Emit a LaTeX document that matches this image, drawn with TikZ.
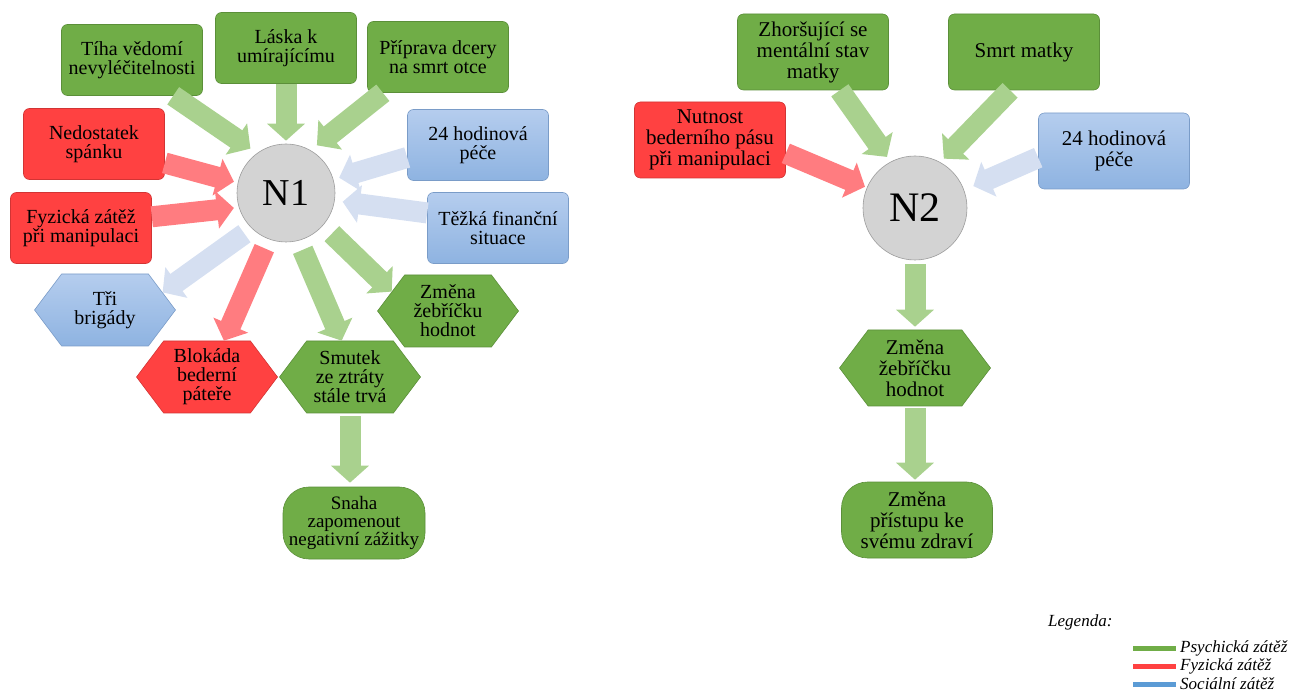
\documentclass[tikz,border=0pt]{standalone}
\usepackage{fontspec}
\setmainfont{Liberation Serif}
\usetikzlibrary{arrows.meta,shapes.symbols}
\definecolor{psyfill}{HTML}{70AD47}
\definecolor{psyline}{HTML}{5B8F39}
\definecolor{psyarrow}{HTML}{A9D18E}
\definecolor{fyzfill}{HTML}{FF4141}
\definecolor{fyzline}{HTML}{D23434}
\definecolor{fyzarrow}{HTML}{FF7C80}
\definecolor{soctop}{HTML}{B5CDEE}
\definecolor{socbot}{HTML}{8EB3E1}
\definecolor{socline}{HTML}{7A9CC8}
\definecolor{socarrow}{HTML}{D5DFF1}
\definecolor{socbar}{HTML}{5B9BD5}
\definecolor{hubfill}{HTML}{D3D3D3}
\definecolor{hubline}{HTML}{9C9C9C}
\newcommand{\cardfont}{\fontsize{20}{19}\selectfont}
\newcommand{\widefont}{\fontsize{21}{21}\selectfont}
\newcommand{\keyfont}{\fontsize{17}{17}\selectfont\itshape}

\begin{document}
\begin{tikzpicture}[x=1pt,y=-1pt,
  card/.style={rectangle, rounded corners=6pt, minimum width=141pt, minimum height=71pt, inner sep=1pt, align=center, font=\cardfont, line width=0.6pt},
  hexcard/.style={signal, signal to=east and west, signal pointer angle=106, minimum width=141pt, minimum height=72pt, inner sep=1pt, align=center, font=\cardfont, line width=0.6pt},
  pill/.style={rectangle, rounded corners=26pt, minimum width=142pt, minimum height=72pt, inner sep=1pt, align=center, line width=0.6pt},
  wide/.style={minimum width=151pt, minimum height=76pt, font=\widefont},
  psy/.style={fill=psyfill, draw=psyline},
  fyz/.style={fill=fyzfill, draw=fyzline},
  soc/.style={top color=soctop, bottom color=socbot, draw=socline},
  hub/.style={circle, fill=hubfill, draw=hubline, line width=0.6pt},
  flow/.style={line width=21pt, -{Triangle[length=17pt,width=37pt]}},
  keytext/.style={anchor=west, font=\keyfont, inner sep=0pt}
]
\useasboundingbox (0,0) rectangle (1296,692);

% N1
\node[hub, minimum size=98pt, font=\fontsize{38}{38}\selectfont] (n1) at (286,193) {N1};
\node[card, psy] (tiha) at (132,60) {Tíha vědomí\\nevyléčitelnosti};
\node[card, psy] (laska) at (286,48) {Láska k\\umírajícímu};
\node[card, psy] (priprava) at (438,57) {Příprava dcery\\na smrt otce};
\node[card, fyz] (spanek) at (94,144) {Nedostatek\\spánku};
\node[card, fyz] (zatez) at (81,228) {Fyzická zátěž\\při manipulaci};
\node[card, soc] (pece) at (478,145) {24 hodinová\\péče};
\node[card, soc] (finance) at (498,228) {Těžká finanční\\situace};
\node[hexcard, soc] (brigady) at (105,310) {Tři\\brigády};
\node[hexcard, fyz] (blokada) at (207,377) {Blokáda\\bederní\\páteře};
\node[hexcard, psy] (smutek) at (350,377) {Smutek\\ze ztráty\\stále trvá};
\node[hexcard, psy] (hodnoty) at (448,311) {Změna\\žebříčku\\hodnot};
\node[pill, psy, font=\fontsize{19}{18}\selectfont] (snaha) at (354,523) {Snaha\\zapomenout\\negativní zážitky};

\draw[flow, psyarrow, shorten >=8pt] (tiha.-41) -- (n1.126);
\draw[flow, psyarrow, shorten >=3pt] (laska.south) -- (n1.north);
\draw[flow, psyarrow, shorten >=8pt] (priprava.213) -- (n1.60);
\draw[flow, fyzarrow, shorten >=4pt] (spanek.-15) -- (n1.168);
\draw[flow, fyzarrow, shorten >=5pt] (zatez.9) -- (n1.197);
\draw[flow, socarrow, shorten >=6pt] (pece.190) -- (n1.16);
\draw[flow, socarrow, shorten >=8pt] (finance.168) -- (n1.-9);
\draw[flow, socarrow, shorten <=9pt] (n1.-134) -- (brigady.17);
\draw[flow, fyzarrow, shorten <=10pt] (n1.-111) -- (blokada.65);
\draw[flow, psyarrow, shorten <=10pt] (n1.-75) -- (smutek.103);
\draw[flow, psyarrow, shorten <=12pt] (n1.-41) -- (hodnoty.161);
\draw[flow, psyarrow, shorten <=3pt, shorten >=4pt] (smutek.south) -- (smutek.south |- snaha.north);

% N2
\node[hub, minimum size=104pt, font=\fontsize{42}{42}\selectfont] (n2) at (915,208) {N2};
\node[card, psy, wide] (mental) at (813,52) {Zhoršující se\\mentální stav\\matky};
\node[card, psy, wide] (smrt) at (1024,52) {Smrt matky};
\node[card, fyz, wide] (pas) at (710,140) {Nutnost\\bederního pásu\\při manipulaci};
\node[card, soc, wide] (pece2) at (1114,151) {24 hodinová\\péče};
\node[hexcard, psy, wide] (hodnoty2) at (915,368) {Změna\\žebříčku\\hodnot};
\node[pill, psy, wide] (zdravi) at (917,520) {Změna\\přístupu ke\\svému zdraví};

\draw[flow, psyarrow, shorten >=6pt] (mental.-55) -- (n2.118);
\draw[flow, psyarrow, shorten >=5pt] (smrt.-110) -- (n2.61);
\draw[flow, fyzarrow, shorten >=2pt] (pas.-10) -- (n2.157);
\draw[flow, socarrow, shorten >=10pt] (pece2.185) -- (n2.20);
\draw[flow, psyarrow, shorten <=4pt, shorten >=3pt] (n2.south) -- (hodnoty2.north);
\draw[flow, psyarrow, shorten <=2pt, shorten >=2pt] (hodnoty2.south) -- (hodnoty2.south |- zdravi.north);

% legenda
\node[keytext] (legenda) at (1048,622) {Legenda:};
\node[keytext] (kpsy) at (1180,648) {Psychická zátěž};
\node[keytext] (kfyz) at (1180,666) {Fyzická zátěž};
\node[keytext] (ksoc) at (1180,684) {Sociální zátěž};
\fill[psyfill] (1133,645.5) rectangle (1176,650.5);
\fill[fyzfill] (1133,663.5) rectangle (1176,668.5);
\fill[socbar] (1133,681.5) rectangle (1176,686.5);
\end{tikzpicture}
\end{document}
